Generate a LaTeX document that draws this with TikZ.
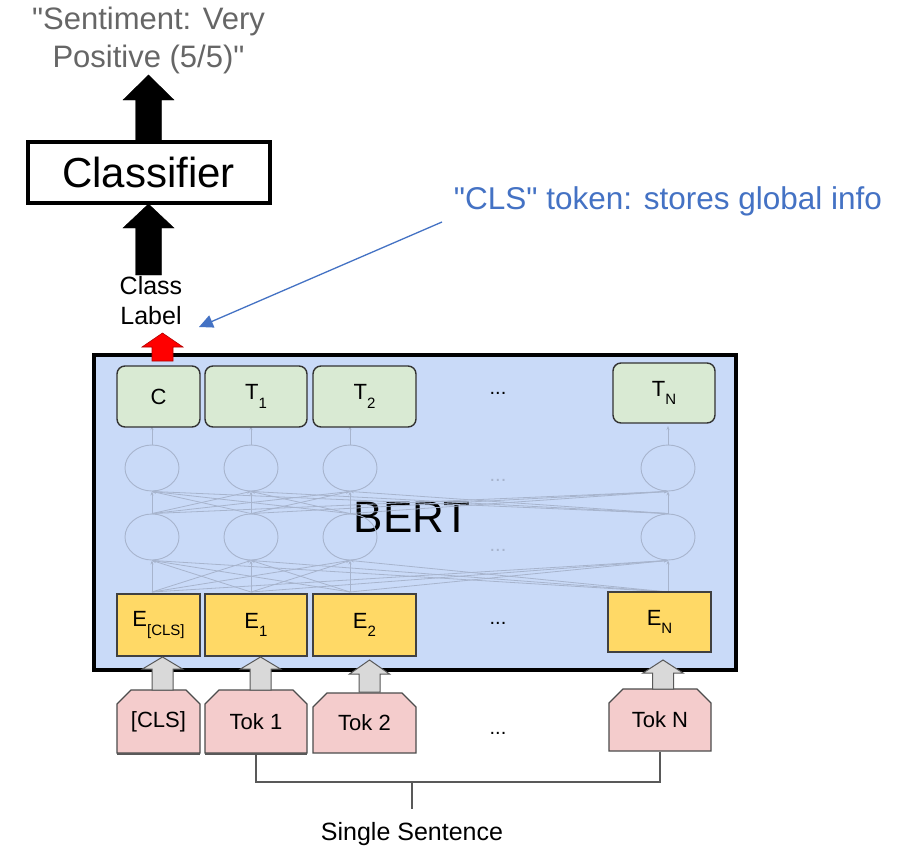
\documentclass[tikz,border=0pt]{standalone}
\usepackage{fontspec}
\setmainfont{Liberation Sans}
\usetikzlibrary{arrows.meta,shapes.geometric,shapes.misc}
\definecolor{bertblue}{HTML}{C9DAF8}
\definecolor{tgreen}{HTML}{D9EAD3}
\definecolor{eyellow}{HTML}{FFD966}
\definecolor{tpink}{HTML}{F4CCCC}
\definecolor{faint}{HTML}{A7B4CD}
\definecolor{gtext}{HTML}{666666}
\definecolor{cblue}{HTML}{4472C4}
\definecolor{agrey}{HTML}{D9D9D9}
\newcommand{\blockup}[7][]{\draw[#1] (#2-#6,#5) -- (#2-#6,#4) -- (#2-#7,#4) -- (#2,#3) -- (#2+#7,#4) -- (#2+#6,#4) -- (#2+#6,#5) -- cycle;}
\newcommand{\lowsub}[1]{\raisebox{-0.38em}{\fontsize{15}{18}\selectfont #1}}
\tikzset{
  gbox/.style={draw=black!80, fill=tgreen, rounded corners=8pt, line width=1.4pt, inner sep=0pt, font=\fontsize{22}{26}\selectfont},
  ybox/.style={draw=black!75, fill=eyellow, line width=1.1pt, inner sep=0pt, font=\fontsize{22}{26}\selectfont},
  tokbox/.style={chamfered rectangle, chamfered rectangle corners={north west,north east}, chamfered rectangle xsep=7pt, chamfered rectangle ysep=7pt, draw=black!70, fill=tpink, line width=1.1pt, inner sep=0pt, font=\fontsize{22}{26}\selectfont},
  ell/.style={ellipse, draw=faint, line width=0.9pt, minimum width=54pt, minimum height=46pt, inner sep=0pt},
  netline/.style={draw=faint, line width=0.8pt, -{Stealth[length=4pt,width=3pt]}},
  dots/.style={font=\fontsize{20}{24}\selectfont},
}
\begin{document}
\begin{tikzpicture}[x=1pt,y=-1pt]
\useasboundingbox (0,0) rectangle (905,852);
\fill[white] (0,0) rectangle (905,852);

% BERT box
\node[draw=black, line width=4pt, fill=bertblue, minimum width=642pt, minimum height=315pt, inner sep=0pt] (bert) at (415,512.5) {};
\node[font=\fontsize{44}{50}\selectfont] (berttxt) at (412,517) {BERT};

% network ellipses
\foreach \i/\x in {1/152,2/251,3/350,4/668}{
  \node[ell] (u\i) at (\x,468) {};
  \node[ell] (l\i) at (\x,537) {};
  \coordinate (e\i) at (\x,592);
  \coordinate (g\i) at (\x,426);
}
\foreach \i in {1,2,3,4}{
  \foreach \j in {1,2,3,4}{
    \draw[netline] (l\i.north) -- (u\j.south);
    \draw[netline] (e\i) -- (l\j.south);
  }
  \draw[netline] (u\i.north) -- (g\i);
}
\node[dots, text=faint] (fd1) at (498,480) {...};
\node[dots, text=faint] (fd2) at (498,550) {...};

% output boxes
\node[gbox, minimum width=83pt, minimum height=61pt] (C) at (158.5,396.5) {C};
\node[gbox, minimum width=102pt, minimum height=61pt] (T1) at (256,396.5) {T\lowsub{1}};
\node[gbox, minimum width=103pt, minimum height=61pt] (T2) at (364.5,396.5) {T\lowsub{2}};
\node[gbox, minimum width=102pt, minimum height=60pt] (TN) at (664,393) {T\lowsub{N}};
\node[dots] (d1) at (498,393) {...};

% embedding boxes
\node[ybox, minimum width=83pt, minimum height=62pt] (E0) at (158.5,625) {E\lowsub{[CLS]}};
\node[ybox, minimum width=102pt, minimum height=62pt] (E1) at (256,625) {E\lowsub{1}};
\node[ybox, minimum width=103pt, minimum height=62pt] (E2) at (364.5,625) {E\lowsub{2}};
\node[ybox, minimum width=103pt, minimum height=60pt] (EN) at (659.5,622) {E\lowsub{N}};
\node[dots] (d2) at (498,623) {...};

% token boxes
\node[tokbox, minimum width=83pt, minimum height=63pt] (K0) at (158.5,721.5) {[CLS]};
\node[tokbox, minimum width=102pt, minimum height=63pt] (K1) at (256,721.5) {Tok 1};
\node[tokbox, minimum width=103pt, minimum height=60pt] (K2) at (364.5,723) {Tok 2};
\node[tokbox, minimum width=102pt, minimum height=62pt] (KN) at (660,720) {Tok N};
\node[dots] (d3) at (498,733) {...};
\draw[black!65, line width=2pt] ([xshift=1pt]K0.south west) -- ([xshift=-1pt]K0.south east);
\draw[black!65, line width=2pt] ([xshift=1pt]K1.south west) -- ([xshift=-1pt]K1.south east);

% grey arrows
\blockup[draw=black!65, fill=agrey, line width=1pt]{162.5}{657}{669}{690}{10.5}{20}
\blockup[draw=black!65, fill=agrey, line width=1pt]{260.5}{657}{669}{690}{10.5}{20}
\blockup[draw=black!65, fill=agrey, line width=1pt]{369.5}{660}{674}{692}{10.5}{20}
\blockup[draw=black!65, fill=agrey, line width=1pt]{663}{660}{673}{689}{10.5}{20}

% bracket
\coordinate (mid) at (412,782);
\draw[black!65, line width=1.3pt] (K1.south) -- (K1.south |- mid) -- (KN.south |- mid) -- (KN.south);
\draw[black!65, line width=1.3pt] (mid) -- ++(0,27);
\node[font=\fontsize{25}{29}\selectfont] (ss) at (412,834) {Single Sentence};

% red arrow
\blockup[draw=red!70!black, fill=red, line width=0.6pt]{162.5}{333}{347}{361}{10.5}{20.5}

% class label
\node[align=center, font=\fontsize{25}{30}\selectfont, inner sep=0pt] (cl) at (151,301) {Class\\Label};

% classifier
\node[draw=black, line width=4pt, fill=white, minimum width=242pt, minimum height=61pt, inner sep=0pt, font=\fontsize{42}{48}\selectfont] (clf) at (148.5,172) {Classifier};
\blockup[fill=black, draw=black]{148.5}{75}{100}{141}{13}{25.5}
\blockup[fill=black, draw=black]{148.5}{204}{228}{275}{13}{25.5}

% sentiment
\node[align=center, text=gtext, font=\fontsize{31}{38}\selectfont, inner sep=0pt] (sent) at (148.5,40) {\textquotedbl Sentiment: Very\\Positive (5/5)\textquotedbl};

% CLS annotation
\node[text=cblue, font=\fontsize{31.5}{36}\selectfont, inner sep=0pt] (clsnote) at (668,201) {\textquotedbl CLS\textquotedbl{} token: stores global info};
\coordinate (cstart) at (442,222);
\coordinate (cend) at (199,327);
\draw[cblue, line width=1.3pt, -{Triangle[length=14pt,width=13pt]}] (cstart) -- (cend);
\end{tikzpicture}
\end{document}
